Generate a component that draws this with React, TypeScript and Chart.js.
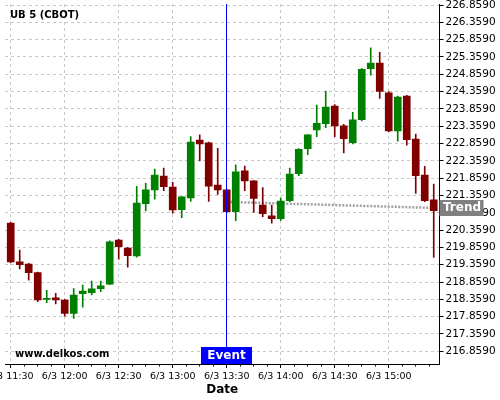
import React, { useEffect, useRef } from "react";
import { Chart, registerables } from "chart.js";

Chart.register(...registerables);

// ---- data ----
const times = [
  "11:30", "11:35", "11:40", "11:45", "11:50", "11:55",
  "12:00", "12:05", "12:10", "12:15", "12:20", "12:25",
  "12:30", "12:35", "12:40", "12:45", "12:50", "12:55",
  "13:00", "13:05", "13:10", "13:15", "13:20", "13:25",
  "13:30", "13:35", "13:40", "13:45", "13:50", "13:55",
  "14:00", "14:05", "14:10", "14:15", "14:20", "14:25",
  "14:30", "14:35", "14:40", "14:45", "14:50", "14:55",
  "15:00", "15:05", "15:10", "15:15", "15:20", "15:25",
];
const opens = [
  220.56, 219.44, 219.38, 219.13, 218.36, 218.40,
  218.34, 217.95, 218.52, 218.55, 218.67, 218.80,
  220.07, 219.84, 219.61, 221.12, 221.52, 221.92,
  221.60, 220.95, 221.29, 222.96, 222.88, 221.66,
  221.52, 220.89, 222.07, 221.78, 221.08, 220.77,
  220.69, 221.21, 221.99, 222.71, 223.25, 223.43,
  223.94, 223.37, 222.88, 223.55, 225.02, 225.18,
  224.32, 223.22, 224.23, 222.99, 221.95, 221.23,
];
const highs = [
  220.58, 219.78, 219.40, 219.15, 218.62, 218.53,
  218.36, 218.67, 218.77, 218.89, 218.89, 220.05,
  220.09, 219.86, 221.62, 221.71, 222.12, 222.15,
  221.74, 221.33, 223.06, 223.11, 222.90, 222.72,
  221.53, 222.24, 222.21, 221.79, 221.59, 221.08,
  221.28, 222.15, 222.71, 223.12, 223.97, 224.37,
  223.98, 223.41, 223.76, 225.02, 225.62, 225.49,
  224.36, 224.23, 224.25, 223.13, 222.20, 221.69,
];
const lows = [
  219.42, 219.24, 218.91, 218.29, 218.26, 218.23,
  217.87, 217.81, 218.13, 218.49, 218.58, 218.78,
  219.52, 219.29, 219.58, 220.91, 221.25, 221.50,
  220.85, 220.72, 221.19, 222.36, 221.19, 221.39,
  220.87, 220.63, 221.50, 220.87, 220.75, 220.56,
  220.64, 221.18, 221.93, 222.54, 223.06, 223.32,
  223.06, 222.59, 222.85, 223.51, 224.83, 224.16,
  223.20, 222.93, 222.81, 221.42, 221.18, 219.57,
];
const closes = [
  219.44, 219.36, 219.13, 218.34, 218.37, 218.34,
  217.95, 218.48, 218.60, 218.66, 218.75, 220.02,
  219.88, 219.62, 221.14, 221.52, 221.95, 221.61,
  220.94, 221.32, 222.90, 222.85, 221.63, 221.52,
  220.89, 222.04, 221.78, 221.27, 220.83, 220.69,
  221.20, 221.98, 222.69, 223.11, 223.44, 223.91,
  223.37, 223.00, 223.54, 225.00, 225.18, 224.36,
  223.22, 224.20, 222.97, 221.93, 221.21, 220.92,
];
const yTickValues = [
  216.859, 217.359, 217.859, 218.359, 218.859, 219.359, 219.859,
  220.359, 220.859, 221.359, 221.859, 222.359, 222.859, 223.359,
  223.859, 224.359, 224.859, 225.359, 225.859, 226.359, 226.859,
];
const xTickTimes = ["11:30", "12:00", "12:30", "13:00", "13:30", "14:00", "14:30", "15:00"];
const xMinorTickTimes = [
  "11:37:30", "11:45", "11:52:30", "12:07:30", "12:15", "12:22:30",
  "12:37:30", "12:45", "12:52:30", "13:07:30", "13:15", "13:22:30",
  "13:37:30", "13:45", "13:52:30", "14:07:30", "14:15", "14:22:30",
  "14:37:30", "14:45", "14:52:30", "15:07:30", "15:15", "15:22:30",
];
const trendTimes = ["13:32", "15:24"];
const trendValues = [221.17, 221.0];
const eventTime = "13:30";
const dateLabel = "6/3";
const titleText = "UB 5 (CBOT)";
const siteText = "www.delkos.com";

// ---- helpers ----
const toMin = (t: string) => {
  const [h, m, s] = t.split(":").map(Number);
  return h * 60 + m + (s ? s / 60 : 0);
};
const fmt = (v: number) => {
  const h = Math.floor(v / 60);
  const m = Math.round(v % 60);
  return `${h}:${m < 10 ? "0" + m : m}`;
};

const UP = "#008000";
const DOWN = "#800000";
const FONT = "'DejaVu Sans', sans-serif";

export default function App() {
  const ref = useRef<HTMLCanvasElement | null>(null);

  useEffect(() => {
    document.body.style.margin = "0";
    const canvas = ref.current;
    if (!canvas) return;

    const xs = times.map(toMin);
    const colors = opens.map((o, i) => (closes[i] >= o ? UP : DOWN));
    const eventX = toMin(eventTime);

    const overlay = {
      id: "overlay",
      afterDatasetsDraw(chart: any) {
        const { ctx, chartArea, scales } = chart;
        const px = Math.floor(scales.x.getPixelForValue(eventX)) + 0.5;
        ctx.save();
        ctx.strokeStyle = "#0000ff";
        ctx.lineWidth = 1;
        ctx.beginPath();
        ctx.moveTo(px, chartArea.top);
        ctx.lineTo(px, chartArea.bottom);
        ctx.stroke();
        ctx.restore();
      },
      afterDraw(chart: any) {
        const { ctx, chartArea, scales } = chart;
        ctx.save();
        // minor x tick marks
        ctx.strokeStyle = "#000";
        ctx.lineWidth = 1;
        ctx.beginPath();
        xMinorTickTimes.forEach((t) => {
          const p = Math.floor(scales.x.getPixelForValue(toMin(t))) + 0.5;
          ctx.moveTo(p, chartArea.bottom);
          ctx.lineTo(p, chartArea.bottom + 2.5);
        });
        ctx.stroke();

        // title
        ctx.fillStyle = "#000";
        ctx.font = `bold 10px ${FONT}`;
        ctx.textBaseline = "middle";
        ctx.textAlign = "left";
        ctx.fillText(titleText, 10, 15.5);
        ctx.fillText(siteText, 15, 354);

        // event box
        const ex = Math.floor(scales.x.getPixelForValue(eventX));
        ctx.fillStyle = "#0000ff";
        ctx.fillRect(ex - 25, chartArea.bottom - 17, 51, 17);
        ctx.fillStyle = "#fff";
        ctx.font = `bold 12px ${FONT}`;
        ctx.textAlign = "center";
        ctx.fillText("Event", ex + 0.5, chartArea.bottom - 8);

        // trend box
        const ty = scales.y.getPixelForValue(trendValues[trendValues.length - 1]);
        ctx.fillStyle = "#808080";
        ctx.fillRect(chartArea.right, Math.round(ty) - 8, 44, 16);
        ctx.fillStyle = "#fff";
        ctx.textAlign = "left";
        ctx.fillText("Trend", chartArea.right + 3.5, Math.round(ty));
        ctx.restore();
      },
    };

    const chart = new Chart(canvas, {
      type: "bar",
      data: {
        datasets: [
          {
            type: "bar",
            label: "body",
            data: xs.map((x, i) => ({ x, y: [opens[i], closes[i]] })) as any,
            backgroundColor: colors,
            borderWidth: 0,
            barThickness: 7,
            minBarLength: 1,
            grouped: false,
            order: 1,
          } as any,
          {
            type: "bar",
            label: "wick",
            data: xs.map((x, i) => ({ x, y: [lows[i], highs[i]] })) as any,
            backgroundColor: colors,
            borderWidth: 0,
            barThickness: 1,
            grouped: false,
            order: 2,
          } as any,
          {
            type: "line",
            label: "trend",
            data: trendTimes.map((t, i) => ({ x: toMin(t), y: trendValues[i] })) as any,
            borderColor: "#a0a0a0",
            borderWidth: 2.5,
            borderDash: [2, 1.5],
            pointRadius: 0,
            fill: false,
            order: 3,
          } as any,
        ],
      },
      options: {
        animation: false,
        responsive: false,
        events: [],
        layout: { padding: { left: 5, top: 4, right: 0, bottom: 0 } },
        plugins: {
          legend: { display: false },
          tooltip: { enabled: false },
          title: { display: false },
        },
        scales: {
          x: {
            type: "linear",
            min: 686.83,
            max: 928.2,
            offset: false,
            afterBuildTicks: (axis: any) => {
              axis.ticks = xTickTimes.map((t) => ({ value: toMin(t) }));
            },
            afterFit: (axis: any) => {
              axis.height = 36;
              axis.paddingLeft = 0;
              axis.paddingRight = 0;
            },
            ticks: {
              autoSkip: false,
              maxRotation: 0,
              minRotation: 0,
              padding: 3,
              color: "#000",
              font: { family: FONT, size: 9.5 },
              callback: (v: any) => `${dateLabel} ${fmt(Number(v))}`,
            },
            grid: {
              offset: false,
              color: "#c8c8c8",
              tickColor: "#000",
              tickLength: 4,
              lineWidth: 1,
            },
            border: { display: true, color: "#000", width: 1, dash: [3, 3] },
            title: {
              display: true,
              text: "Date",
              color: "#000",
              font: { family: FONT, size: 12, weight: "bold" },
              padding: { top: 0, bottom: 3 },
            },
          },
          y: {
            type: "linear",
            position: "right",
            min: 216.492,
            max: 226.888,
            afterBuildTicks: (axis: any) => {
              axis.ticks = yTickValues.map((v) => ({ value: v }));
            },
            afterFit: (axis: any) => {
              axis.width = 60.5;
              axis.paddingTop = 0;
              axis.paddingBottom = 0;
            },
            ticks: {
              padding: 2,
              color: "#000",
              font: { family: FONT, size: 10.5 },
              callback: (v: any) => Number(v).toFixed(4),
            },
            grid: {
              color: "#c8c8c8",
              tickColor: "#000",
              tickLength: 4,
              lineWidth: 1,
            },
            border: { display: true, color: "#000", width: 1, dash: [3, 3] },
          },
        },
      } as any,
      plugins: [overlay],
    });

    return () => chart.destroy();
  }, []);

  return (
    <div style={{ width: 500, height: 400 }}>
      <canvas ref={ref} width={500} height={400} style={{ display: "block" }} />
    </div>
  );
}
